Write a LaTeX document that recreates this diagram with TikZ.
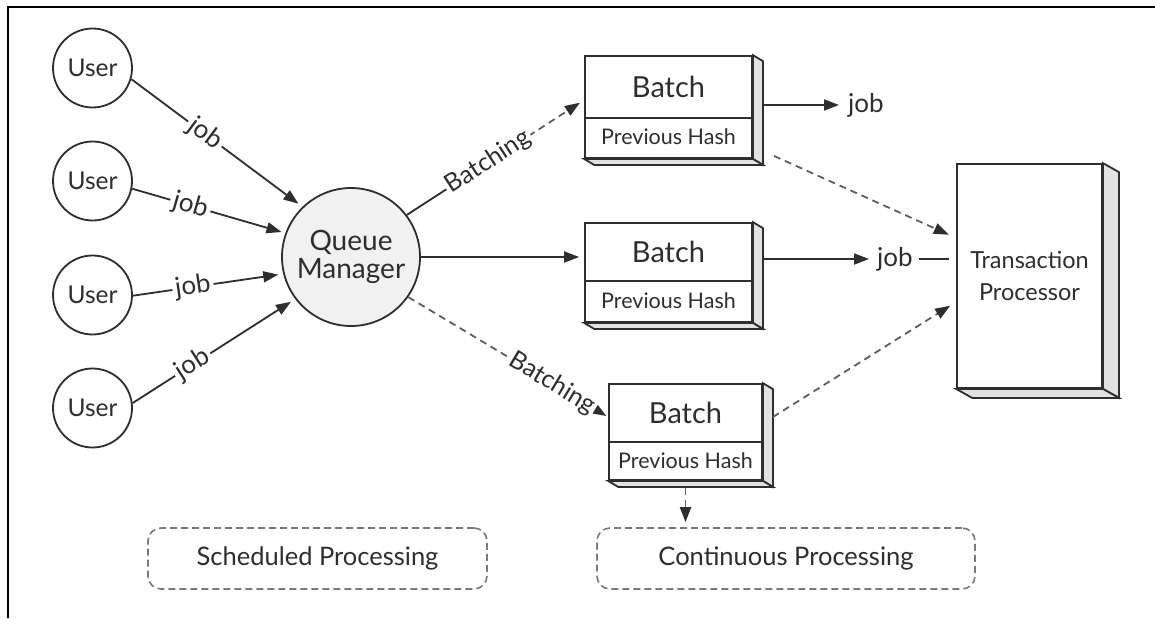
\documentclass[tikz,border=0pt]{standalone}
\usepackage{fontspec}
\setmainfont{Lato}
\usetikzlibrary{arrows.meta,calc}

% draws the shaded right side and bottom of a box node
\newcommand\drawdepth[3]{%
  \filldraw[ink,fill=sidegray] (#1.north east) -- ++(#2,#3) -- ($(#1.south east)+(#2,#3)$) -- (#1.south east) -- cycle;
  \filldraw[ink,fill=sidegray] (#1.south west) -- (#1.south east) -- ($(#1.south east)+(#2,#3)$) -- ($(#1.south west)+(#2,#3)$) -- cycle;
}

\definecolor{inkc}{HTML}{2E2E2E}
\definecolor{dashc}{HTML}{5E5E5E}
\definecolor{groupc}{HTML}{7A7A7A}
\definecolor{sidegray}{HTML}{E2E2E2}
\definecolor{qmfill}{HTML}{F1F1F1}

\begin{document}
\begin{tikzpicture}[x=1pt,y=-1pt,
  ink/.style={draw=inkc, line width=1.8pt},
  usr/.style={circle, ink, fill=white, minimum size=79pt, inner sep=0pt, text=inkc, font=\fontsize{24.5}{26}\selectfont},
  qmstyle/.style={circle, ink, fill=qmfill, minimum size=138pt, inner sep=0pt, align=center, text=inkc, font=\fontsize{28}{28}\selectfont},
  batchbox/.style={rectangle, ink, fill=white, inner sep=0pt},
  btitle/.style={font=\fontsize{29}{30}\selectfont, inner sep=0pt, text=inkc},
  bhash/.style={font=\fontsize{21.5}{23}\selectfont, inner sep=0pt, text=inkc},
  lbl/.style={fill=white, inner sep=3pt, text=inkc, font=\fontsize{26}{28}\selectfont},
  blbl/.style={fill=white, inner sep=2pt, text=inkc, font=\fontsize{25}{27}\selectfont},
  tip/.style={-{Triangle[length=15pt,width=11pt,color=inkc]}},
  conn/.style={draw=inkc, line width=1.8pt, tip},
  plain/.style={draw=inkc, line width=1.8pt},
  dconn/.style={draw=dashc, line width=1.8pt, dash pattern=on 7pt off 5pt, tip},
  group/.style={rectangle, draw=groupc, line width=1.6pt, dash pattern=on 7pt off 4pt, rounded corners=13pt, inner sep=0pt, text=inkc, font=\fontsize{25.5}{27}\selectfont}
]
\useasboundingbox (0,0) rectangle (1155,618);
\fill[white] (0,0) rectangle (1155,618);

% outer frame
\draw[black, line width=2.6pt] (8,618) -- (8,7) -- (1155,7);

% users
\node[usr] (u1) at (92.5,68) {User};
\node[usr] (u2) at (92.5,181) {User};
\node[usr] (u3) at (92.5,295) {User};
\node[usr] (u4) at (92.5,408) {User};

% queue manager
\node[qmstyle] (qm) at (351,257) {Queue\\Manager};

% batches
\node[batchbox, minimum width=167pt, minimum height=102pt] (b1) at (668.5,107) {};
\node[batchbox, minimum width=167pt, minimum height=99pt] (b2) at (668.5,272.5) {};
\node[batchbox, minimum width=153pt, minimum height=96pt] (b3) at (685.5,432) {};
\drawdepth{b1}{10}{6}
\drawdepth{b2}{10}{6}
\drawdepth{b3}{10}{6}

\draw[ink] ($(b1.north west)+(0,63)$) -- ($(b1.north east)+(0,63)$);
\draw[ink] ($(b2.north west)+(0,59)$) -- ($(b2.north east)+(0,59)$);
\draw[ink] ($(b3.north west)+(0,59)$) -- ($(b3.north east)+(0,59)$);

\node[btitle] (b1t) at ($(b1.north)+(0,32)$) {Batch};
\node[bhash]  (b1h) at ($(b1.north)+(0,82)$) {Previous Hash};
\node[btitle] (b2t) at ($(b2.north)+(0,30)$) {Batch};
\node[bhash]  (b2h) at ($(b2.north)+(0,79)$) {Previous Hash};
\node[btitle] (b3t) at ($(b3.north)+(0,30)$) {Batch};
\node[bhash]  (b3h) at ($(b3.north)+(0,77.5)$) {Previous Hash};

% transaction processor
\node[batchbox, minimum width=145pt, minimum height=224pt, align=center, text=inkc,
      font=\fontsize{23.5}{32}\selectfont] (tp) at (1029.5,276) {Transaction\\Processor};
\drawdepth{tp}{16}{9}

% processing groups
\node[group, minimum width=339pt, minimum height=61pt] (sp) at (317.5,558.5) {Scheduled Processing};
\node[group, minimum width=378pt, minimum height=61pt] (cp) at (786,558.5) {Continuous Processing};

% jobs from users
\draw[conn, shorten >=5pt] (u1.-16) -- node[lbl, sloped, pos=.43] {job} (qm.134.5);
\draw[conn, shorten >=4pt] (u2.-11) -- node[lbl, sloped, pos=.38] {job} (qm.160.5);
\draw[conn, shorten >=5pt] (u3.-1) -- node[lbl, sloped, pos=.40] {job} (qm.194);
\draw[conn, shorten >=5pt] (u4.7) -- node[lbl, sloped, pos=.37] {job} (qm.217);

% batching
\path (qm.37) -- coordinate[pos=.46] (bt1) ($(b1.west)+(0,-7)$);
\draw[plain] (qm.37) -- (bt1);
\draw[dconn, shorten >=5pt] (bt1) -- ($(b1.west)+(0,-7)$);
\path (qm.37) -- node[blbl, sloped, pos=.46] (bl1) {Batching} ($(b1.west)+(0,-7)$);

\draw[conn, shorten >=5pt] (qm.east) -- (qm.east -| b2.west);

\draw[dconn, shorten >=2pt] (qm.-35) -- node[blbl, sloped, pos=.72] (bl3) {Batching} ($(b3.west)+(0,-15)$);

% outputs of the batches
\node[lbl, inner sep=2pt] (j1) at (866,105) {job};
\node[lbl, inner sep=2pt] (j2) at (895,259) {job};
\draw[conn, shorten >=7pt] ($(b1.east |- j1)+(10,0)$) -- (j1.west);
\draw[conn, shorten >=6pt] ($(b2.east |- j2)+(10,0)$) -- (j2.west);
\draw[plain, shorten <=4pt, shorten >=7pt] (j2.east) -- (tp.west |- j2);

\draw[dconn, shorten >=8pt] ($(b1.south east)+(21,-3)$) -- ($(tp.west)+(0,-38)$);
\draw[dconn, shorten >=7pt] ($(b3.east)+(10,-15)$) -- ($(tp.west)+(0,26)$);
\draw[dconn, shorten >=5pt] ($(b3.south)+(0,7)$) -- (b3.south |- cp.north);
\end{tikzpicture}
\end{document}
